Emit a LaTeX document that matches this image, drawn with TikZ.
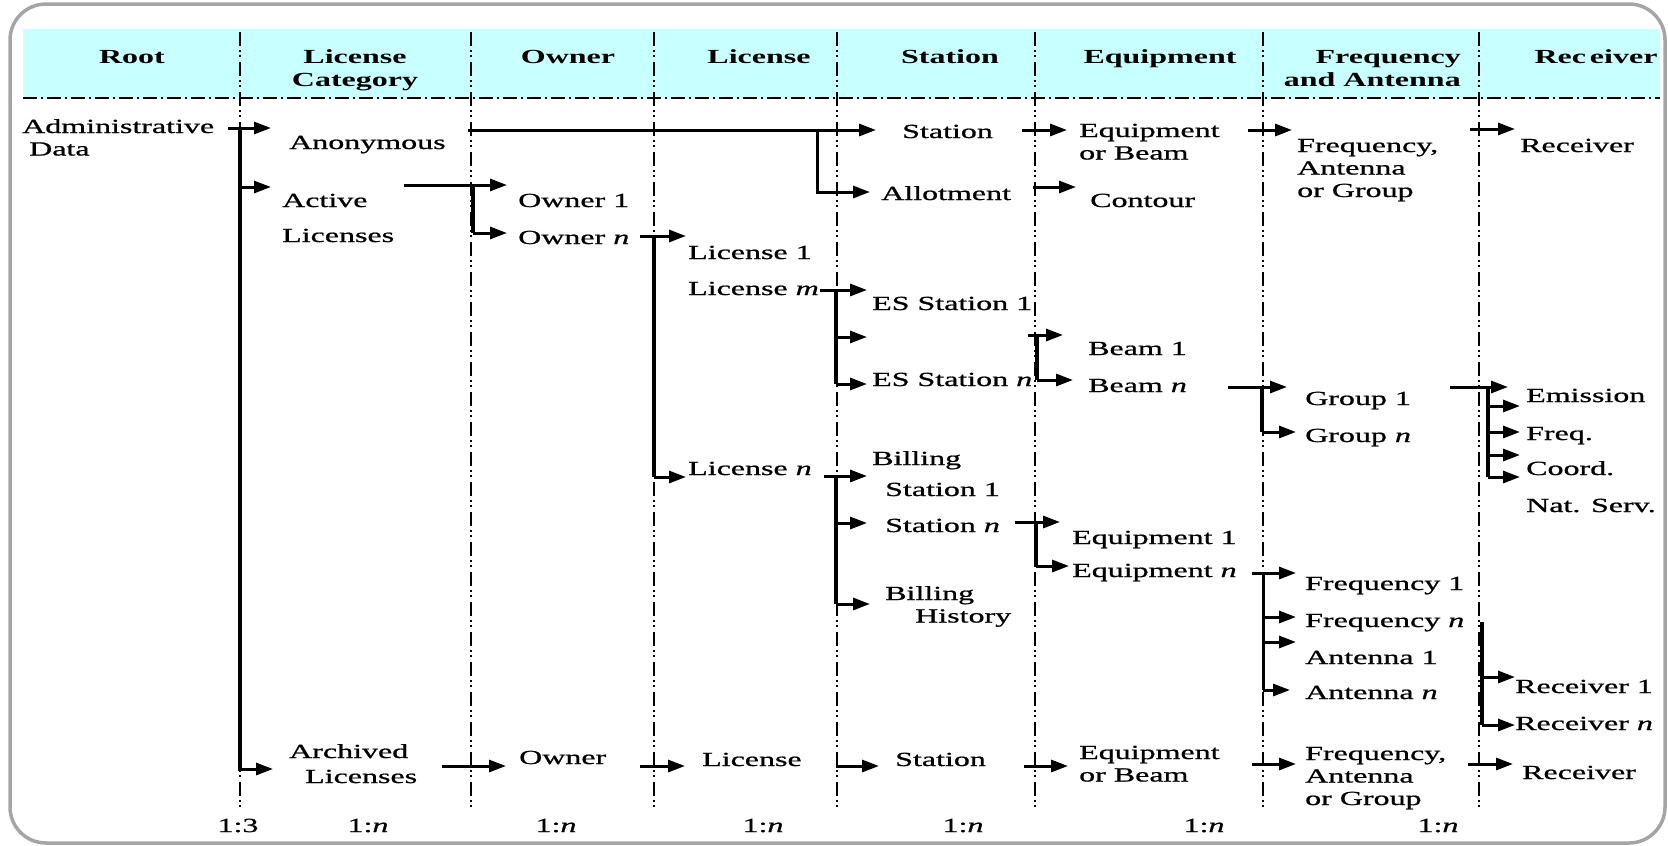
\documentclass[tikz,border=0pt]{standalone}
\usepackage{fontspec}
\setmainfont{Liberation Serif}[FakeStretch=1.6,
  UprightFeatures={FakeBold=0.9}, ItalicFeatures={FakeBold=0.9}]
\usetikzlibrary{arrows.meta}
\definecolor{bandcyan}{RGB}{200,255,255}
\definecolor{framegray}{RGB}{165,165,165}
\tikzset{
  % multi-line labels are placed by the baseline of their last line
  lbl/.style={inner sep=0pt, anchor=base west, align=left, font=\fontsize{20}{22.5}\selectfont},
  hdr/.style={inner sep=0pt, anchor=base, align=center, font=\fontsize{20}{23}\selectfont\bfseries},
  hdrr/.style={hdr, anchor=base east, align=right},
  ratio/.style={inner sep=0pt, anchor=base, font=\fontsize{20}{22.5}\selectfont},
  colsep/.style={line width=2.2pt, dash pattern=on 14pt off 4pt on 2pt off 3pt on 2pt off 5pt},
  rowsep/.style={line width=2pt, dash pattern=on 14pt off 4pt on 2pt off 4pt},
  bus/.style={line width=4.5pt},
  thinbus/.style={line width=3pt},
  link/.style={line width=3pt, -{Triangle[length=17pt,width=12pt]}},
}
\begin{document}
\begin{tikzpicture}[x=1pt,y=-1pt]
\useasboundingbox (0,0) rectangle (1668,846);
% header band, frame and column separators
\fill[bandcyan] (23,29) rectangle (1660,99);
\draw[framegray, line width=3.5pt, rounded corners=36pt] (10,4) rectangle (1665,843);
\draw[rowsep] (23,98) -- (1660,98);
\foreach \x in {240,471,654,837,1035,1263,1479} \draw[colsep] (\x,32) -- (\x,807);

% column headings
\node[hdr] (hRoot) at (132,63) {Root};
\node[hdr] (hCat) at (355,86) {License\\Category};
\node[hdr] (hOwner) at (568,63) {Owner};
\node[hdr] (hLic) at (759,63) {License};
\node[hdr] (hSta) at (950,63) {Station};
\node[hdr] (hEq) at (1160,63) {Equipment};
\node[hdrr] (hFreq) at (1461,86) {Frequency\\and Antenna};
\node[hdr] (hRec) at (1596,63) {Rec\kern4pt eiver};

% record labels
\node[lbl] (admin) at (22,155.5) {Administrative\\\hspace*{7pt}Data};
\node[lbl] (anon) at (289,149) {Anonymous};
\node[lbl] (active) at (282,242) {Active\\[12.5pt]Licenses};
\node[lbl] (own1) at (518,207) {Owner 1};
\node[lbl] (ownn) at (518,244) {Owner \textit{n}};
\node[lbl] (staA) at (902,138) {Station};
\node[lbl] (allot) at (881,200) {Allotment};
\node[lbl] (eqA) at (1079,159.5) {Equipment\\or Beam};
\node[lbl] (contour) at (1090,207) {Contour};
\node[lbl] (frA) at (1297,197) {Frequency,\\Antenna\\or Group};
\node[lbl] (recA) at (1520,152) {Receiver};
\node[lbl] (lic1) at (688,259) {License 1};
\node[lbl] (licm) at (688,295) {License \textit{m}};
\node[lbl] (es1) at (872,310) {ES Station 1};
\node[lbl] (esn) at (872,386) {ES Station \textit{n}};
\node[lbl] (beam1) at (1088,355) {Beam 1};
\node[lbl] (beamn) at (1088,392) {Beam \textit{n}};
\node[lbl] (grp1) at (1305,405) {Group 1};
\node[lbl] (grpn) at (1305,442) {Group \textit{n}};
\node[lbl] (emis) at (1526,402) {Emission};
\node[lbl] (freqq) at (1526,440) {Freq.};
\node[lbl] (coord) at (1526,475) {Coord.};
\node[lbl] (natserv) at (1526,512) {Nat. Serv.};
\node[lbl] (licn) at (688,475) {License \textit{n}};
\node[lbl] (billing) at (872,465) {Billing};
\node[lbl] (st1) at (885,496) {Station 1};
\node[lbl] (stn) at (885,532) {Station \textit{n}};
\node[lbl] (eq1) at (1072,544) {Equipment 1};
\node[lbl] (eqn) at (1072,577) {Equipment \textit{n}};
\node[lbl] (billhist) at (885,622.5) {Billing\\\hspace*{30pt}History};
\node[lbl] (fr1) at (1305,590) {Frequency 1};
\node[lbl] (frn) at (1305,627) {Frequency \textit{n}};
\node[lbl] (an1) at (1305,664) {Antenna 1};
\node[lbl] (ann) at (1305,699) {Antenna \textit{n}};
\node[lbl] (rc1) at (1515,693) {Receiver 1};
\node[lbl] (rcn) at (1515,730) {Receiver \textit{n}};
\node[lbl] (arch) at (289,783) {Archived\\[2.5pt]\hspace*{16pt}Licenses};
\node[lbl] (ownB) at (519,764) {Owner};
\node[lbl] (licB) at (702,766) {License};
\node[lbl] (staB) at (895,766) {Station};
\node[lbl] (eqB) at (1079,781.5) {Equipment\\or Beam};
\node[lbl] (frB) at (1305,805) {Frequency,\\Antenna\\or Group};
\node[lbl] (recB) at (1522,779) {Receiver};

% cardinalities
\node[ratio] (r0) at (238,832) {1:3};
\node[ratio] (r1) at (368,832) {1:\textit{n}};
\node[ratio] (r2) at (556,832) {1:\textit{n}};
\node[ratio] (r3) at (763,832) {1:\textit{n}};
\node[ratio] (r4) at (963,832) {1:\textit{n}};
\node[ratio] (r5) at (1204,832) {1:\textit{n}};
\node[ratio] (r6) at (1438,832) {1:\textit{n}};

% root bus
\draw[link] (228,128) -- (271,128);
\draw[bus] (240,128) -- (240,769);
\draw[link] (240,187) -- (271,187);
\draw[link] (238,769) -- (273,769);

% anonymous branch
\draw[link] (468,130) -- (876,130);
\draw[link] (817,130) -- (817,192) -- (870,192);
\draw[link] (1022,130) -- (1067,130);
\draw[link] (1033,187) -- (1076,187);
\draw[link] (1248,130) -- (1292,130);
\draw[link] (1470,129) -- (1515,129);

% active licenses branch
\draw[link] (404,185) -- (507,185);
\draw[bus] (473,185) -- (473,233);
\draw[link] (473,233) -- (507,233);

\draw[link] (640,236) -- (686,236);
\draw[bus] (654,236) -- (654,477);
\draw[link] (654,477) -- (686,477);

\draw[link] (820,290) -- (867,290);
\draw[bus] (836,290) -- (836,384);
\draw[link] (836,337) -- (867,337);
\draw[link] (836,384) -- (867,384);

\draw[link] (1028,335) -- (1063,335);
\draw[bus] (1037,335) -- (1037,380);
\draw[link] (1037,380) -- (1073,380);

\draw[link] (1228,387) -- (1287,387);
\draw[bus] (1262,387) -- (1262,432);
\draw[link] (1262,432) -- (1296,432);

\draw[link] (1450,387) -- (1508,387);
\draw[bus] (1488,387) -- (1488,477);
\foreach \y in {406,432,455,477} \draw[link] (1488,\y) -- (1520,\y);

\draw[link] (824,476) -- (867,476);
\draw[bus] (836,476) -- (836,604);
\draw[link] (836,523) -- (867,523);
\draw[link] (836,604) -- (870,604);

\draw[link] (1015,522) -- (1060,522);
\draw[bus] (1036,522) -- (1036,566);
\draw[link] (1036,566) -- (1069,566);

\draw[link] (1252,573) -- (1296,573);
\draw[thinbus] (1263,573) -- (1263,690);
\draw[link] (1263,617) -- (1296,617);
\draw[link] (1263,642) -- (1296,642);
\draw[link] (1263,690) -- (1290,690);

\draw[bus] (1482,622) -- (1482,725);
\draw[link] (1482,677) -- (1515,677);
\draw[link] (1482,725) -- (1515,725);

% archived licenses chain
\draw[link] (442,766) -- (506,766);
\draw[link] (640,766) -- (685,766);
\draw[link] (836,766) -- (879,766);
\draw[link] (1024,766) -- (1068,766);
\draw[link] (1252,764) -- (1296,764);
\draw[link] (1468,764) -- (1513,764);
\end{tikzpicture}
\end{document}
